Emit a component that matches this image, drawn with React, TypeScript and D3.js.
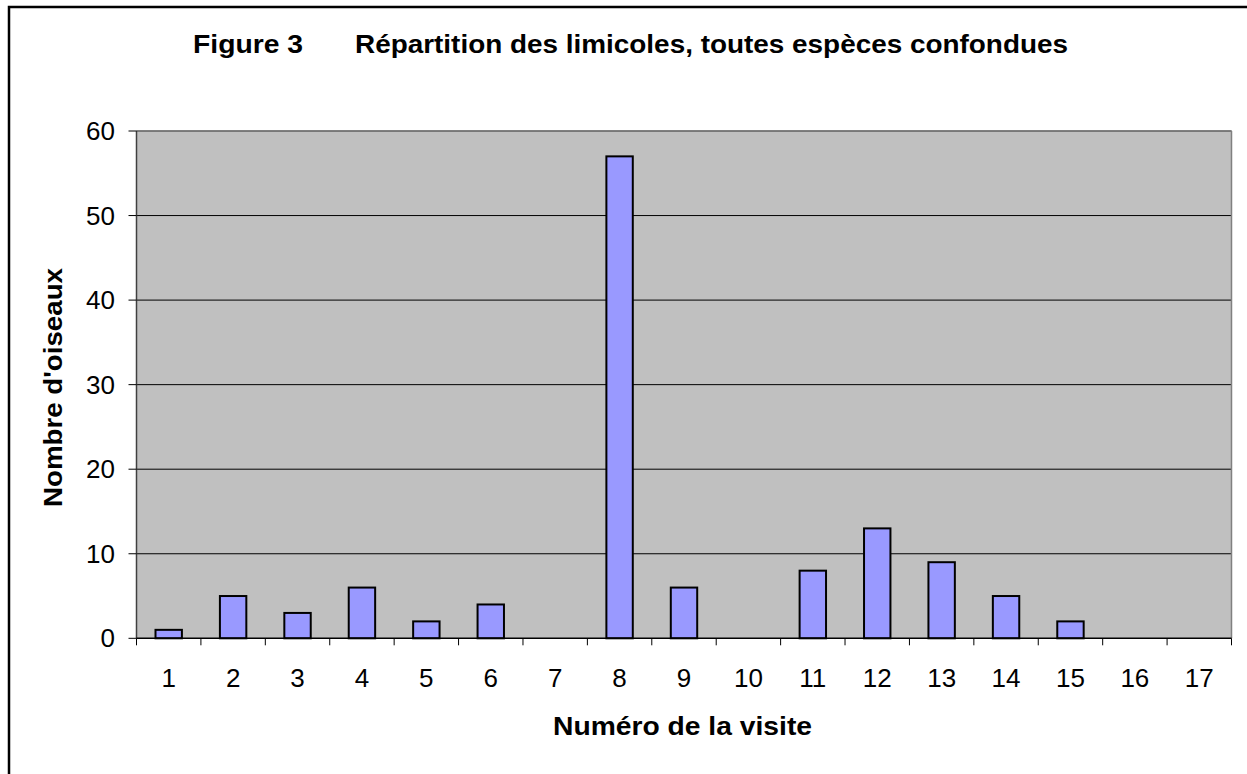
import React from "react";
import * as d3 from "d3";

const categories = ["1","2","3","4","5","6","7","8","9","10","11","12","13","14","15","16","17"];
const values = [1,5,3,6,2,4,0,57,6,0,8,13,9,5,2,0,0];
const yTicks = [0,10,20,30,40,50,60];
const titleLeft = "Figure 3";
const titleRight = "Répartition des limicoles, toutes espèces confondues";
const xTitle = "Numéro de la visite";
const yTitle = "Nombre d'oiseaux";

const W = 1247, H = 774;
const plot = { left: 136.5, right: 1231.5, top: 131, bottom: 638.3 };
const font = "Arial, 'Liberation Sans', sans-serif";

export default function App() {
  const x = d3.scaleBand<string>().domain(categories).range([plot.left, plot.right]).paddingInner(0).paddingOuter(0);
  const y = d3.scaleLinear().domain([0, 60]).range([plot.bottom, plot.top]);
  const bw = x.bandwidth();
  const barW = bw * 0.41;
  const boundaries = d3.range(categories.length + 1).map(i => plot.left + i * bw);

  return (
    <svg width={W} height={H} style={{ position: "absolute", left: 0, top: 0, background: "#fff" }}>
      <rect x={9} y={7} width={1400} height={900} fill="none" stroke="#000" strokeWidth={2.5} />
      <text x={193} y={53} fontFamily={font} fontWeight="bold" fontSize={25.5} textLength={110} lengthAdjust="spacingAndGlyphs">{titleLeft}</text>
      <text x={355} y={53} fontFamily={font} fontWeight="bold" fontSize={25.5} textLength={713} lengthAdjust="spacingAndGlyphs">{titleRight}</text>

      <rect x={plot.left} y={plot.top} width={plot.right - plot.left} height={plot.bottom - plot.top} fill="#C0C0C0" />
      {yTicks.filter(t => t > 0).map(t => (
        <line key={"g" + t} x1={plot.left} x2={plot.right} y1={y(t)} y2={y(t)} stroke="#000" strokeWidth={1} />
      ))}
      <line x1={plot.left} x2={plot.right} y1={plot.top} y2={plot.top} stroke="#808080" strokeWidth={1.5} />
      <line x1={plot.right} x2={plot.right} y1={plot.top} y2={plot.bottom} stroke="#808080" strokeWidth={1.5} />

      {values.map((v, i) => v > 0 ? (
        <rect key={"b" + i}
          x={(x(categories[i]) as number) + (bw - barW) / 2}
          y={y(v)}
          width={barW}
          height={y(0) - y(v)}
          fill="#9999FF" stroke="#000" strokeWidth={2} />
      ) : null)}

      <line x1={plot.left} x2={plot.left} y1={plot.top} y2={plot.bottom} stroke="#404040" strokeWidth={1.5} />
      <line x1={plot.left} x2={plot.right} y1={plot.bottom} y2={plot.bottom} stroke="#000" strokeWidth={1.5} />

      {yTicks.map(t => (
        <g key={"yt" + t}>
          <line x1={plot.left - 8} x2={plot.left} y1={y(t)} y2={y(t)} stroke="#000" strokeWidth={1} />
          <text x={115} y={y(t) + 9} textAnchor="end" fontFamily={font} fontSize={26}>{t}</text>
        </g>
      ))}
      {boundaries.map((bx, i) => (
        <line key={"xt" + i} x1={bx} x2={bx} y1={plot.bottom} y2={plot.bottom + 7} stroke="#000" strokeWidth={1} />
      ))}
      {categories.map(c => (
        <text key={"xl" + c} x={(x(c) as number) + bw / 2} y={687} textAnchor="middle" fontFamily={font} fontSize={26}>{c}</text>
      ))}

      <text x={682.5} y={735} textAnchor="middle" fontFamily={font} fontWeight="bold" fontSize={26} textLength={259} lengthAdjust="spacingAndGlyphs">{xTitle}</text>
      <text transform="translate(62,387.5) rotate(-90)" textAnchor="middle" fontFamily={font} fontWeight="bold" fontSize={26} textLength={239} lengthAdjust="spacingAndGlyphs">{yTitle}</text>
    </svg>
  );
}
